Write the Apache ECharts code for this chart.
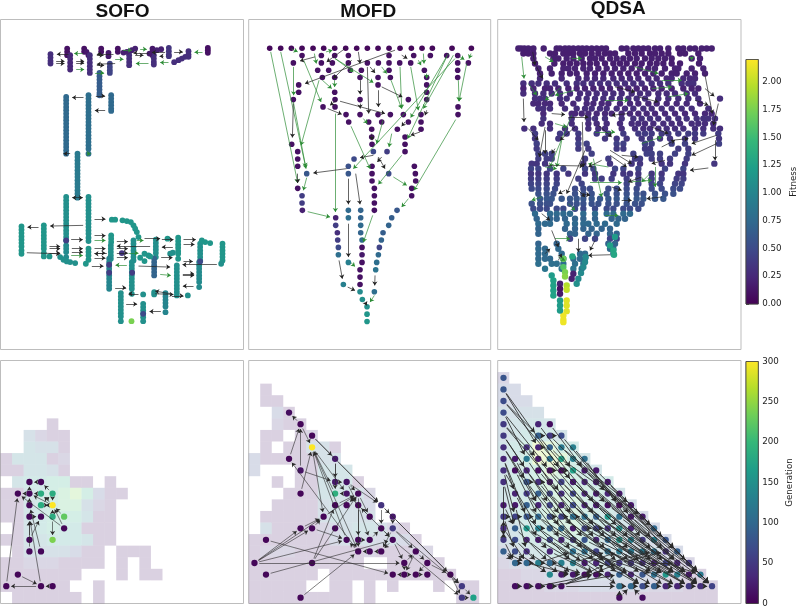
<!DOCTYPE html>
<html><head><meta charset="utf-8">
<style>html,body{margin:0;padding:0;background:#fff}#c{width:796px;height:607px}</style>
<script src="https://cdn.jsdelivr.net/npm/echarts@6/dist/echarts.min.js"></script></head>
<body><div id="c"></div><script>
const viridis=['#440154','#482878','#3e4989','#31688e','#26828e','#1f9e89','#35b779','#6ece58','#b5de2b','#fde725'];
const titles=['SOFO','MOFD','QDSA'];
const fitnessTicks=[0,0.25,0.5,0.75,1,1.25,1.5,1.75,2];
const generationTicks=[0,50,100,150,200,250,300];

// TOP ROW: columns/rows of nodes: [fitness, fixed coord, [list]]
const sofoCols=[
[.3,151,[162,172,182,190]],[.1,201,[145,155,165]],[.25,210,[165,176,187,198,208]],[.1,252,[145,155]],[.15,259,[155]],[.15,265,[165]],
[.3,269,[165,176,187,198,208,218]],[.1,303,[145,155]],[.15,325,[158,168]],[.45,329,[190,200,210,218]],[.1,353,[145,155]],
[.3,387,[155,165,175,185,195]],[.2,370,[157]],[.2,380,[155]],[.2,395,[150]],[.2,405,[145]],[.15,457,[145,155,165]],[.3,461,[165,175,185,193]],
[.2,470,[150]],[.2,483,[147]],[.15,448,[160]],[.35,506,[143,153,163,168]],[.3,565,[153,163,170]],[.3,555,[170]],[.3,545,[175]],[.3,535,[180]],[.3,522,[186]],[.1,623,[143,150,158]],
[.65,298,[218,228,238,248,258,268,278,285]],
[.75,198,[290,300,310,320,330,340,350,360,370,380,390,400,410,420,430,440,450,460]],
[.8,265,[285,295,305,315,325,335,345,355,365,375,385,395,405,415,425,435,445,460]],
[.75,333,[285,295,305,315,325,332]],
[.9,232,[460,470,480,490,500,510,520,530,540,550,560,570,580,592]],
[1.1,198,[590,600,610,620,630,640,650,660,670,680,690,700,710,720]],
[1.1,265,[590,600,610,620,630,640,650,660,670,680,690,700,712,722]],
[1.15,64,[678,688,698,708,718,728,738,750,760]],
[1.15,131,[675,685,695,705,715,725,735,745,758,768]],
[1.05,198,[735,745,755,770]],[1.1,180,[770]],[1.1,190,[778]],[1.1,200,[783]],[1.1,210,[785]],[1.1,225,[788]],[1.15,148,[768]],[1.15,257,[790]],
[1.15,265,[745,755,765,778]],[1.15,333,[705,715,725]],[1.15,335,[658]],[1.15,345,[658]],[1.15,367,[660]],[1.15,380,[662]],[1.15,392,[665]],[1.15,400,[675]],[1.15,405,[685]],[1.15,410,[695]],[1.15,415,[710]],
[1.1,332,[735,745,755,765,775]],[1.0,327,[775,785,795,805,815,825,835,845,855,865]],
[1.1,400,[720,730,740,750,760,770,780]],[1.1,395,[785,795,805,815,825,835,845,855,865,880]],
[1.1,467,[718,728,738,748,758,770]],[.7,462,[775,785,795,805,815,825]],
[1.15,534,[712,722,732,742,752,760,775]],[1.1,530,[795,805,815,825,835,845,855,865,875,885]],
[1.1,600,[730,740,750,760,770,780]],[1.05,597,[785,795,805,815,825,835,845,860]],[1.15,605,[720]],[1.15,615,[725]],[1.15,630,[728]],
[1.15,667,[730,740,750,760,770,780]],[1.1,663,[790]],[1.15,433,[760,782]],[1.15,420,[772]],[1.15,445,[765]],[1.15,450,[768]],[1.15,502,[715]],[1.1,510,[760]],[1.1,518,[757]],
[1.1,362,[878,888,898,908,918,928,938,948,962]],[1.1,429,[910,920,930,940,950,962]],[1.0,496,[878,888,898,908,918,935]],[1.1,462,[875,882]],[1.1,429,[882]],[1.1,563,[885]],
[1.75,394,[962]],[.35,365,[758]],[.4,198,[720]],[.4,327,[793,817]],[.4,396,[817]],[.5,429,[940]],[.5,600,[783]]];

const mofdRows=[
[.05,144,[74,107,139,171,204,236,269,302,335,367,399,432,465,499,531,562,621,679]],
[.1,166,[171,229,269,310,432,506,556,605,638]],
[.1,188,[145,229,262,310,367,400,432,464,497,638,670]],
[.1,210,[218,251,316,349,432,538,638]],
[.1,232,[232,269,345,399,436,545,638]],
[.1,254,[161,399,545]],[.1,276,[161,269,545]],[.1,298,[145,270,345,490,545]],[.1,320,[270,234,639]],
[.1,343,[303,345,399,436,475,528,639]],[.1,365,[311,371,410,490,528]],[.1,387,[380,457,528]],[.1,410,[380,480]],
[.1,432,[140,381,480]],[.1,454,[158,480]],[.5,454,[385]],[.4,454,[426]],[.1,476,[158]],[.5,476,[327]],
[.1,498,[158,381,508]],[.55,498,[310]],[.1,520,[381,511]],[.6,520,[185,310]],[.5,520,[431]],[.1,542,[381,512]],
[.1,564,[158,388,500]],[.4,586,[171]],[.1,586,[388,500]],[.4,608,[171]],[.1,608,[388]],
[.2,630,[172]],[.75,630,[310]],[.7,630,[347]],[.1,630,[388]],[.6,630,[456]],
[.2,652,[272]],[.8,652,[310]],[.7,652,[347]],[.65,652,[440]],[.4,675,[272]],[.75,675,[347]],[.7,675,[431]],
[.3,697,[277]],[.7,697,[347]],[.65,697,[414]],[.4,719,[278]],[.75,719,[351]],[.7,719,[409]],
[.5,741,[280]],[.1,741,[351]],[.45,741,[403]],[.8,763,[280]],[.15,763,[351]],[.75,763,[400]],
[.95,786,[310]],[.1,786,[351]],[.8,786,[395]],[.1,808,[345]],[.85,808,[392]],[.1,830,[345]],
[.95,852,[295]],[.1,852,[345]],[1.05,874,[345]],[.8,874,[388]],[1.1,897,[352]],[1.1,919,[366]],[1.15,941,[366]],[1.15,963,[366]]];

const qdsaRows=[
[.2,145,[70,78,88,100,115,146,185,195,210,222,235,250,262,275,290,305,320,333,380,395,415,430,445,460,480,495,520,550,565,585,600,620,635,650]],
[.18,160,[85,100,115,165,180,205,220,235,255,270,290,310,330,345,360,400,420,440,465,480,500,520,555,570,610]],
[.2,175,[115,175,190,215,235,260,285,300,320,345,365,385,405,425,450,470,490,510,530,590,615]],
[.18,190,[120,178,205,225,245,265,285,305,330,355,375,395,420,440,465,485,505,530,555,612]],
[.22,205,[130,165,205,220,240,265,285,310,335,360,385,410,435,460,480,510,540,550,590,625]],
[.2,220,[135,170,200,225,245,275,300,325,350,375,400,425,450,475,500,530,545,575,600,630]],
[.25,235,[135,200,250,275,300,325,355,380,405,430,460,485,515,530,565,585,600]],
[.3,250,[85,110,130,155,180,215,245,265,290,315,340,365,390,415,440,470,495,520,560,580,595]],
[.22,265,[85,115,150,165,190,220,245,270,295,320,345,375,400,425,450,475,500,530,565,590,610]],
[.28,280,[85,120,145,170,195,225,255,280,305,330,355,380,410,435,460,490,515,540,575,600]],
[.3,295,[120,135,150,195,215,250,275,300,325,350,375,400,425,450,490,520,550,580,610,675]],
[.25,310,[115,130,150,165,200,235,275,295,320,340,375,405,430,460,485,515,545,575,615]],
[.3,325,[130,145,165,210,245,270,290,315,335,365,390,415,445,470,500,530,560,590,640]],
[.25,340,[145,230,240,260,280,305,330,350,380,405,430,455,480,510,540,570,600,630,650]],
[.32,355,[145,230,280,300,330,380,415,440,465,490,520,550,575,605,625,640,660]],
[.28,370,[140,165,230,280,305,335,375,410,430,450,475,505,530,555,590,610,630,655]],
[.3,385,[88,115,165,210,240,280,310,330,380,420,445,465,490,515,540,565,600,625,655,675]],
[.38,400,[120,195,215,250,305,340,385,430,450,470,500,520,550,580,600,625,670]],
[.35,415,[120,190,250,330,365,395,440,465,495,525,570,600,672]],
[.42,430,[125,250,275,365,385,450,470,530,570,672]],
[.38,445,[125,250,280,365,385,450,465,550,580]],
[.42,460,[130,150,170,290,415,455,470,495,540,580]],
[.4,475,[130,155,170,270,340,420,435,470,495,525,575]],
[.35,490,[110,125,150,265,345,410,435,500,525,570,658]],
[.45,505,[108,130,165,205,270,295,360,385,430,510,565]],
[.35,520,[108,130,155,185,220,270,300,355,385,405,430,470,500,550,565]],
[.4,535,[108,130,155,185,250,300,320,350,395,430,470,500,545,565]],
[.45,550,[108,130,155,185,260,395,430,470,495,540,560]],
[.5,565,[110,130,155,180,240,265,285,340,365,395,425,470,500,535,555]],
[.55,580,[130,155,175,240,265,290,335,365,395,425,445,480,510,535]],
[.6,595,[135,155,170,200,225,245,265,290,315,340,365,395,425,445,480,505]],
[.55,610,[110,135,155,165,225,245,265,290,310,340,365,395,420,440]],
[.5,625,[115,135,155,185,205,240,265,300,335,355,385,405,430]],
[.75,640,[120,165,185,205,225,265,300,335,355,385,405]],
[.7,655,[125,165,185,210,240,265,300,350,370,390]],
[.75,670,[130,150,165,215,240,265,280,305,330,365]],
[.7,685,[130,210,240,265,290,320,345]],
[.7,700,[130,225,240,280,305,345,365]],
[.45,715,[225,270,300,345,365]],
[.7,730,[130,185,340,360]],[.75,745,[130,150,190,345,355]],[.75,760,[130,150,200,255,270,355]],
[.75,775,[130,150,165,205,235,255,270]],[.8,790,[130,170,185,205,240,265]],[.85,805,[150,200,235,260]]];
const qdsaAccent=[[205,775,1.7],[205,800,1.6],[210,815,1.75],[210,828,1.8],[215,855,1.95],[215,868,2],[215,900,2.1],[215,915,2.1],[215,932,2.1],[205,945,2.15],[205,958,2.15],[205,965,2.15],
[170,825,1.2],[175,840,1.25],[175,855,1.25],[175,870,1.25],[175,885,1.25],[195,900,1.2],[195,915,1.2],[195,930,1.2],[195,850,.2],[195,865,.1],[195,880,.15],
[245,850,1.1],[250,835,1.05],[258,818,1.05],[265,800,1.05],[270,785,1.05],[272,770,1.05],[232,768,1.3],[345,735,1.25],[355,750,1.3],[357,763,1.3],[360,710,1.2],[235,820,.2],[230,835,.2]];

// TOP ROW: arrows [x1,y1,x2,y2]
const sofoBlack=[[205,162,170,162],[168,183,193,183],[168,190,193,190],[228,183,252,183],[228,188,252,188],[340,162,290,162],[290,165,310,165],[345,190,290,192],[290,195,312,195],[405,165,430,165],[445,158,400,158],[490,168,478,168],[522,155,548,155],[495,157,455,157],[250,292,216,292],[315,331,284,331],[287,287,315,287],[210,460,190,460],[232,592,216,592],[232,592,248,592],[283,656,316,656],[249,675,150,677],[115,680,82,680],[80,757,180,760],[148,738,180,738],[148,745,180,745],[213,718,248,718],[283,706,316,706],[148,758,180,758],[215,745,248,745],[215,755,248,755],[283,745,316,745],[283,758,316,758],[320,760,283,760],[283,773,316,773],[275,797,310,797],[350,724,383,724],[350,745,383,745],[350,758,383,758],[350,772,383,772],[345,862,378,862],[378,911,411,911],[482,933,448,933],[415,880,385,880],[433,715,480,715],[485,718,520,718],[450,737,350,737],[518,740,485,740],[483,772,517,772],[415,797,510,800],[550,718,587,718],[550,732,583,732],[650,793,547,793],[550,783,578,783],[548,820,582,820],[548,825,582,825],[580,857,548,857],[512,880,465,872],[515,886,550,886],[465,880,520,882]];
const sofoGreen=[[248,160,222,160],[228,208,252,208],[285,218,312,218],[345,177,370,177],[368,150,395,150],[420,147,440,147],[445,190,407,190],[505,187,480,187],[607,156,583,156],[213,765,248,765],[283,720,316,720],[380,794,346,794],[385,758,415,758],[480,822,512,825],[410,720,430,720],[260,460,272,460]];
const mofdGreen=[[77,155,158,548],[107,155,183,505],[139,146,158,155],[176,180,228,305],[145,200,146,285],[222,240,168,435],[145,305,182,500],[185,532,175,570],[208,160,214,190],[232,240,260,265],[269,240,269,260],[272,340,271,635],[188,634,255,650],[318,378,375,505],[243,155,262,150],[270,175,385,247],[270,175,325,215],[410,200,425,220],[465,200,470,325],[497,200,520,330],[438,240,470,325],[520,180,528,195],[535,160,537,190],[545,220,545,235],[610,160,497,352],[625,165,535,325],[630,175,325,505],[605,170,488,415],[645,170,658,178],[678,160,672,175],[640,240,642,303],[665,190,642,303],[632,358,507,570],[414,360,395,430],[440,400,432,440],[470,465,400,552],[445,530,485,555],[490,595,470,620],[383,645,355,725],[318,787,330,798],[388,885,375,905],[355,355,367,370]];
const mofdBlack=[[450,150,180,250],[300,145,245,185],[210,170,165,182],[340,155,345,190],[470,165,487,175],[375,200,390,218],[345,240,345,282],[367,200,371,340],[400,270,400,320],[410,260,472,290],[285,303,420,340],[145,310,142,412],[248,325,290,342],[275,300,255,315],[345,310,345,325],[320,180,265,235],[380,400,381,420],[525,395,497,405],[480,365,470,378],[385,465,345,472],[400,470,420,505],[410,470,397,485],[305,505,205,518],[310,535,310,612],[332,520,345,612],[158,520,158,548],[310,670,310,770],[282,780,292,835],[308,860,330,870],[390,825,389,855],[360,905,365,915],[545,330,540,345]];
const qdsaBlack=[[113,155,120,195],[125,200,143,235],[85,295,87,365],[170,340,210,343],[640,503,585,510],[660,420,660,480],[670,310,655,375],[630,225,652,340],[630,265,658,288],[665,430,590,465],[665,405,590,430],[270,450,215,580],[262,365,265,500],[155,495,265,497],[150,380,133,470],[345,465,395,500],[345,450,410,490],[345,763,280,765],[380,465,430,470],[170,690,190,740],[250,715,250,755],[300,720,285,750],[100,385,130,420],[150,390,150,460],[180,445,170,460],[240,380,195,420],[310,375,350,410],[400,340,350,345],[600,300,640,315],[530,420,580,415],[510,480,470,490],[500,590,455,595],[380,600,410,600],[260,580,285,585],[140,640,165,660],[250,570,270,590],[320,480,280,500],[440,530,400,545],[350,560,380,570],[210,570,190,580],[500,440,540,420],[470,380,520,400],[220,350,280,350],[430,290,490,305],[360,260,420,275],[150,760,165,745],[190,780,200,760]];
const qdsaGreen=[[80,170,87,235],[200,420,185,500],[295,475,320,590],[285,547,380,547],[230,345,165,500],[180,715,225,715],[150,170,175,185],[230,175,260,175],[100,250,125,285],[240,270,180,285],[200,260,150,300],[330,300,400,300],[420,200,490,220],[500,240,560,240],[470,265,530,260],[520,290,580,280],[180,370,215,380],[300,395,360,395],[440,430,500,410],[480,500,480,560],[465,520,440,545],[400,545,470,540],[330,645,370,645],[220,610,240,630],[150,500,185,505],[140,590,110,600],[340,500,280,490],[190,770,210,780],[590,175,590,180]];

// BOTTOM ROW: archive cells, one text row per grid row (top row first); '.' = empty, digit = fitness in 0.2 steps
const sofoHeat=['','','','','',
'....0','..3100','..4330','044401','004430','.4556600.0','00456786200','0045677310','0045666400','.045655000','0044555400','.03333200.000','001110000.0.0','0000000...0.00','000000..0','.000000.0'];
const mofdHeat=['','',
'.0','.00','..20','..100','.00.01','.0.00330','20000033','2...00444','..0.004440','...00044431','..000034332','.0000034333','.3000012344310','000000023332320','0111000000100011','0000000000..00000','000000.00000000000','00000..00.0.0...0.00','000000000.0.......00'];
const qdsaHeat=['','1','22','222','3333','34444','345554','4569865','45699864','455687654','4556776655','45567776654','455677765543','4556777655432','34556776554432','345566665443322','2344555544433322','12233344444332211','001122333333221100','0000111222222111000','0000000000000000000'];

// BOTTOM ROW: occupied cells [column,row,generation]
const sofoNodes=[[2,10,5],[3,10,5],[1,9,5],[2,9,5],[3,9,185],[4,9,185],[2,8,5],[3,8,185],[4,8,300],[2,7,5],[3,7,5],[4,7,185],[5,7,225],[5,6,5],[2,5,5],[4,5,240],[2,4,5],[3,4,5],[1,2,5],[0,1,5],[3,1,5],[4,1,5]];
const mofdNodes=[[3,16,10],[4,15,5],[5,14,5],[5,13,300],[3,12,5],[7,12,20],[4,11,15],[7,10,20],[8,10,15],[4,9,5],[7,9,190],[8,9,15],[9,9,5],[7,8,5],[8,8,5],[9,8,5],[11,8,45],[6,7,5],[10,7,5],[12,7,20],[4,6,5],[5,6,5],[7,6,5],[11,6,5],[12,6,50],[1,5,5],[8,5,5],[9,5,5],[10,5,5],[12,5,5],[9,4,5],[10,4,5],[11,4,5],[14,4,5],[0,3,5],[5,3,5],[13,3,5],[15,3,5],[1,2,5],[12,2,5],[13,2,5],[14,2,5],[15,2,5],[17,2,5],[18,1,50],[4,0,5],[18,0,50],[19,0,170]];
const qdsaByRow=[
[[10,10],[12,10]],
[[1,10],[2,10],[3,10],[4,10],[5,10],[10,110],[11,100],[12,70],[13,90],[14,30],[15,30],[16,50],[17,40],[18,60]],
[[4,140],[5,20],[6,20],[7,10],[8,10],[9,30],[10,90],[11,30],[12,80],[13,110],[14,160],[15,130],[16,20],[17,120]],
[[1,100],[2,100],[3,130],[4,100],[5,130],[6,130],[7,20],[8,30],[9,60],[10,50],[11,50],[12,40],[13,30],[14,60],[15,30],[16,50]],
[[0,90],[1,70],[2,40],[4,30],[6,110],[7,110],[8,60],[9,110],[10,120],[11,120],[12,120],[13,110],[14,40],[15,90]],
[[0,50],[1,70],[2,30],[3,20],[4,60],[5,30],[6,50],[7,80],[8,30],[9,100],[10,160],[11,130],[12,50],[13,130],[14,80]],
[[0,40],[1,90],[2,160],[3,130],[4,90],[5,100],[6,20],[7,60],[8,60],[9,40],[10,150],[11,30],[13,100]],
[[0,50],[1,60],[2,80],[3,100],[4,70],[5,60],[6,110],[7,110],[8,90],[9,160],[10,110],[11,20],[12,20]],
[[0,20],[1,20],[2,90],[3,30],[4,60],[5,30],[6,70],[7,30],[8,20],[9,10],[10,10],[11,20]],
[[1,30],[2,50],[3,90],[4,60],[5,40],[6,60],[7,30],[8,20],[9,30],[10,20]],
[[0,40],[2,80],[3,40],[4,20],[5,60],[6,20],[7,30],[8,20],[9,20]],
[[0,40],[1,10],[2,30],[3,10],[4,10],[5,10],[6,170],[7,20],[8,20]],
[[0,30],[1,20],[2,120],[3,20],[4,110],[5,170],[6,130],[7,110]],
[[0,40],[2,40],[3,30],[4,90],[5,120],[6,130]],
[[0,50],[3,90],[4,50],[5,70]],[[0,50],[3,30],[4,10]],[[0,70]],[[0,70]],[[0,80]],[[0,80]]];

// BOTTOM ROW: improvement arrows between cells [fromCol,fromRow,toCol,toRow]
const sofoEdges=[[3,1,2,7],[3,4,2,8],[2,4,2,7],[2,5,2,7],[2,5,3,7],[0,1,1,9],[3,1,0,1],[4,1,3,1],[1,2,3,1],[2,9,1,9],[3,10,2,10],[2,9,2,10],[3,9,2,9],[2,8,2,9],[5,6,1,9],[4,8,3,8],[4,8,2,9],[5,6,4,8],[5,7,4,8],[4,7,4,8],[4,9,4,8],[3,8,4,9],[4,7,4,5],[4,8,3,9],[4,9,3,10],[3,8,4,8],[2,7,3,7]];
const mofdEdges=[[4,15,3,16],[3,12,4,15],[4,11,4,15],[4,9,5,13],[5,14,7,12],[4,15,5,13],[5,13,9,4],[5,13,6,7],[7,9,5,13],[8,5,5,13],[9,4,3,12],[7,12,7,9],[7,12,7,10],[4,11,7,10],[5,14,11,8],[7,12,11,8],[11,8,12,7],[11,8,11,6],[12,7,12,6],[12,7,18,1],[11,8,17,2],[12,6,18,1],[17,2,18,1],[18,1,19,0],[18,0,19,0],[17,2,18,0],[12,5,18,0],[0,3,6,7],[0,3,8,5],[0,3,4,6],[0,3,13,3],[0,3,5,6],[1,5,12,2],[1,2,12,5],[5,3,9,9],[5,3,7,8],[4,0,9,4],[4,6,6,7],[5,6,6,7],[5,6,8,5],[6,7,9,9],[7,8,9,9],[9,9,8,8],[8,9,7,9],[7,10,8,10],[8,10,9,9],[9,9,10,7],[10,7,9,8],[8,10,9,8],[9,8,9,5],[9,9,9,4],[9,5,10,5],[10,5,11,6],[11,6,12,5],[12,5,11,4],[11,4,10,4],[10,4,9,4],[9,4,8,5],[12,6,11,4],[12,5,13,3],[13,3,14,4],[14,4,15,3],[15,3,17,2],[14,4,13,2],[13,3,13,2],[13,2,12,2],[13,2,14,2],[14,2,15,2],[15,3,14,2],[8,10,11,8],[5,13,8,9],[9,8,10,5],[12,6,14,4],[8,9,12,5]];
const qdsaEdges=[[0,18,3,13],[0,18,5,11],[0,17,3,14],[0,17,6,10],[0,16,2,12],[0,16,4,11],[0,15,3,12],[0,15,5,9],[0,14,2,11],[0,14,4,8],[0,13,2,10],[0,13,3,8],[0,12,1,9],[0,12,2,7],[0,11,1,7],[0,11,3,6],[0,10,1,6],[0,10,0,5],[0,8,1,6],[0,7,1,4],[0,6,2,3],[0,5,1,3],[0,4,2,3],[0,4,1,3],
[3,15,6,11],[4,15,7,11],[3,14,8,8],[4,14,9,9],[5,14,10,8],[2,13,6,7],[3,13,8,7],[4,13,9,8],[5,13,11,8],[6,13,11,7],[1,12,3,8],[2,12,6,6],[3,12,8,6],[4,12,10,6],[5,12,12,7],[6,12,13,6],[7,12,12,5],[1,11,3,7],[2,11,5,7],[3,11,8,5],[4,11,10,5],[5,11,11,5],[6,11,13,5],[7,11,14,5],[8,11,15,4],[2,10,5,6],[3,10,7,5],[4,10,9,5],[5,10,11,4],[6,10,13,4],[7,10,14,4],[8,10,15,4],[9,10,15,3],
[1,9,3,5],[2,9,5,5],[3,9,7,4],[4,9,9,4],[5,9,11,3],[6,9,13,3],[7,9,14,3],[8,9,15,3],[9,9,16,3],[10,9,17,2],[1,8,2,4],[2,8,6,4],[3,8,8,3],[4,8,10,3],[5,8,12,3],[6,8,13,2],[7,8,15,2],[8,8,16,2],[9,8,17,2],[10,8,17,1],[11,8,18,1],
[1,7,4,4],[2,7,6,3],[3,7,9,3],[4,7,10,2],[5,7,12,2],[6,7,14,2],[7,7,15,2],[8,7,16,2],[9,7,17,1],[10,7,18,1],[11,7,17,2],[12,7,18,1],[1,6,4,3],[2,6,7,3],[3,6,9,2],[4,6,11,2],[5,6,12,1],[6,6,14,1],[7,6,16,1],[8,6,17,1],[9,6,15,2],[10,6,16,2],[13,6,17,2],
[1,5,3,3],[2,5,6,2],[3,5,8,2],[4,5,10,1],[5,5,12,1],[6,5,13,1],[7,5,15,1],[8,5,14,2],[9,5,15,2],[10,5,16,1],[11,5,17,1],[14,5,18,1],[1,4,4,2],[2,4,5,2],[4,4,8,2],[6,4,11,2],[7,4,13,2],[8,4,12,1],[9,4,14,2],[10,4,15,1],[11,4,16,1],[13,4,17,1],[15,4,17,2],
[5,1,10,3],[4,1,10,2],[3,1,8,2],[5,1,9,3],[5,1,10,1],[4,3,7,2],[6,3,9,4],[3,3,6,4],[7,3,10,4],[2,3,6,2],[9,3,13,4],[10,3,14,4],[12,3,15,3],[14,3,17,2],[16,3,18,1],[10,1,11,1],[11,1,12,1],[10,0,11,1],[12,0,11,1],[10,0,10,1],[1,1,2,1],[2,1,3,1],[3,1,4,1],[4,1,5,1],[1,3,2,3],[2,3,3,3],[3,3,4,3],[4,3,5,3],[5,2,6,2],[6,2,7,2],[7,2,8,2],[8,2,9,2],[12,1,13,1],[13,1,14,1],[14,1,15,1],[15,1,16,1],[16,1,17,1],[17,1,18,1],[0,6,0,7],[0,5,0,6],[0,7,1,7],[1,7,2,7],[2,7,3,7],[3,6,4,6],[4,7,5,7],[5,7,6,7],[6,7,7,7],[7,6,8,6],[8,6,9,6],[2,10,3,10],[3,10,4,10],[4,11,5,11],[5,11,6,11],[3,13,4,13],[3,14,4,14],[4,14,5,14]];

const fromCols=cols=>cols.flatMap(([f,x,ys])=>ys.map(y=>[x,y,f]));
const fromRows=rows=>rows.flatMap(([f,y,xs])=>xs.map(x=>[x,y,f]));
const toLines=list=>list.map(([a,b,c,d])=>({coords:[[a,b],[c,d]]}));
function cellLines(list){return list.map(([a,b,c,d])=>{const dx=c-a,dy=d-b,L=Math.hypot(dx,dy)||1,s=.42;
  return {coords:[[a+dx/L*s,b+dy/L*s],[c-dx/L*s,d-dy/L*s]]};});}
function heatCells(rows){const out=[];rows.forEach((row,i)=>[...row].forEach((ch,c)=>{if(ch!=='.')out.push([c,20-i,+ch*.2+.15]);}));return out;}
const qdsaNodes=qdsaByRow.flatMap((cells,r)=>cells.map(([c,g])=>[c,r,g]));

const panels=[{l:.5,w:243,xr:[1,730],dot:5.8,arrow:4,lw:.6},{l:248.7,w:242,xr:[11,737],dot:5.6,arrow:4,lw:.6},{l:497.7,w:243.3,xr:[8,738],dot:6.4,arrow:5,lw:.85}];
const grid=[],xAxis=[],yAxis=[],series=[];
function addGrid(g,xa,ya){const i=grid.length;grid.push(Object.assign({outerBoundsMode:'none'},g));xAxis.push(Object.assign({gridIndex:i},xa));yAxis.push(Object.assign({gridIndex:i},ya));return i;}
const frame={show:true,borderColor:'#bdbdbd',borderWidth:1,backgroundColor:'#fff'};
const hiddenV=(min,max,extra)=>Object.assign({type:'value',min,max,show:false},extra||{});

function lineSeries(i,data,color,w,z,arrow){series.push({type:'lines',coordinateSystem:'cartesian2d',xAxisIndex:i,yAxisIndex:i,data,polyline:false,
  silent:true,symbol:['none','arrow'],symbolSize:[0,arrow],lineStyle:{color,width:w,opacity:1},z});}
function nodeSeries(i,data,size,id){series.push({id,type:'scatter',xAxisIndex:i,yAxisIndex:i,data,symbolSize:size,silent:true,z:4,itemStyle:{opacity:1},encode:{x:0,y:1}});}
function cellSeries(i,data,id){series.push({id,type:'custom',xAxisIndex:i,yAxisIndex:i,data,silent:true,z:1,encode:{x:0,y:1},
  renderItem(p,api){const a=api.coord([api.value(0)-.5,api.value(1)+.5]),b=api.coord([api.value(0)+.5,api.value(1)-.5]);
    return {type:'rect',shape:{x:a[0],y:a[1],width:b[0]-a[0],height:b[1]-a[1]},style:{fill:api.visual('color'),opacity:.2}};}});}

// top panels
const topNodes=[fromCols(sofoCols),fromRows(mofdRows),fromRows(qdsaRows).concat(qdsaAccent)];
const topG=[sofoGreen,mofdGreen,qdsaGreen],topB=[sofoBlack,mofdBlack,qdsaBlack];
panels.forEach((p,k)=>{
  const i=addGrid(Object.assign({left:p.l,top:19.5,width:p.w,height:330},frame),hiddenV(p.xr[0],p.xr[1]),hiddenV(58,1047,{inverse:true}));
  nodeSeries(i,topNodes[k],p.dot,'top'+k);
  lineSeries(i,toLines(topG[k]),'#2c8c35',.7,5,4);
  lineSeries(i,toLines(topB[k]),'#222',.7,6,4);
});
// bottom panels
const botCells=[sofoHeat,mofdHeat,qdsaHeat],botNodes=[sofoNodes,mofdNodes,qdsaNodes],botEdges=[sofoEdges,mofdEdges,qdsaEdges];
panels.forEach((p,k)=>{
  const i=addGrid(Object.assign({left:p.l,top:360.5,width:p.w,height:243},frame),hiddenV(-.5,20.5),hiddenV(-.5,20.5));
  cellSeries(i,heatCells(botCells[k]),'cell'+k);
  nodeSeries(i,botNodes[k],6.3,'bot'+k);
  lineSeries(i,cellLines(botEdges[k]),'#2a2a2a',p.lw,5,p.arrow);
});
// colour bars
function colorBar(top,h,max,ticks,name,fmt,gap){
  const i=addGrid({left:746,top,width:12.3,height:h,show:true,borderColor:'#444',borderWidth:.8},hiddenV(0,1),
   {type:'value',position:'right',min:0,max,name,nameLocation:'middle',nameGap:gap,nameRotate:90,nameTextStyle:{fontFamily:'DejaVu Sans',fontSize:8.7,color:'#222'},
    axisLine:{show:false},splitLine:{show:false},
    axisTick:{show:true,length:3,customValues:ticks,lineStyle:{color:'#333',width:.8}},
    axisLabel:{customValues:ticks,fontFamily:'DejaVu Sans',fontSize:8.7,color:'#222',margin:4,formatter:fmt}});
  series.push({type:'custom',xAxisIndex:i,yAxisIndex:i,data:[[0,max]],silent:true,z:2,encode:{x:0,y:1},
   renderItem(p,api){const s=p.coordSys;
    return {type:'rect',shape:{x:s.x,y:s.y,width:s.width,height:s.height},
     style:{fill:new echarts.graphic.LinearGradient(0,1,0,0,viridis.map((color,j)=>({offset:j/(viridis.length-1),color}))),stroke:'#444',lineWidth:.8}};}});
}
colorBar(59.5,244.5,2.2,fitnessTicks,'Fitness',v=>v.toFixed(2),31);
colorBar(361.5,242,300,generationTicks,'Generation',v=>String(v),27);

const chart=echarts.init(document.getElementById('c'),null,{renderer:'canvas'});
const titleCfg=[[117.5,-3],[363.2,-3],[613.2,-5.5]];
chart.setOption({animation:false,backgroundColor:'#fff',
 title:titles.map((t,k)=>({text:t,left:titleCfg[k][0],top:titleCfg[k][1],textAlign:'center',textStyle:{fontFamily:'Liberation Sans',fontWeight:'bold',fontSize:19,color:'#111'}})),
 grid,xAxis,yAxis,series,
 visualMap:[
  {show:false,type:'continuous',min:0,max:2.2,dimension:2,seriesId:['top0','top1','top2','cell0','cell1','cell2'],inRange:{color:viridis}},
  {show:false,type:'continuous',min:0,max:300,dimension:2,seriesId:['bot0','bot1','bot2'],inRange:{color:viridis}}]
});
</script></body></html>
